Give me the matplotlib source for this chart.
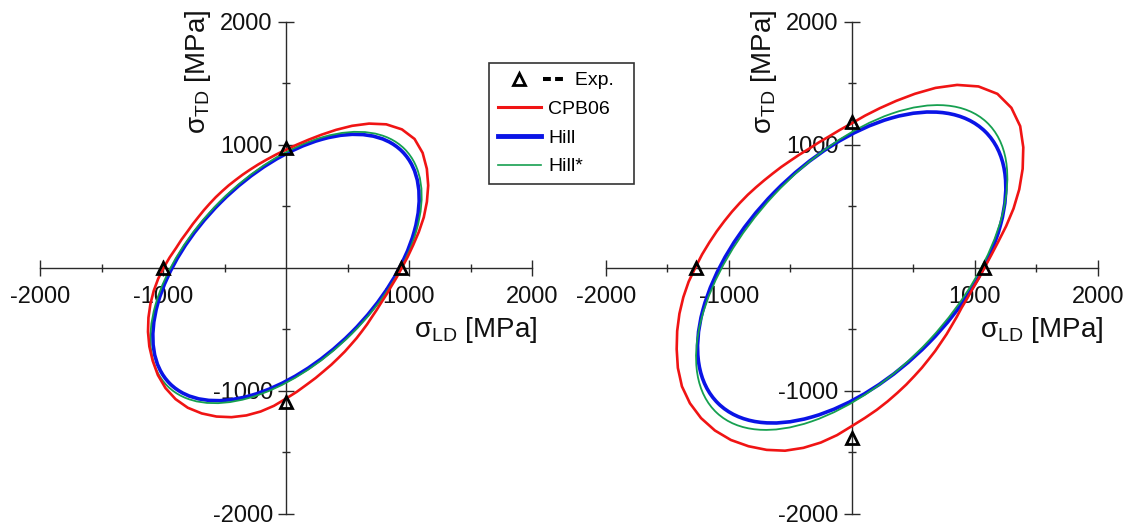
import numpy as np
import matplotlib
matplotlib.use("Agg")
import matplotlib.pyplot as plt
from matplotlib.patches import Ellipse
from matplotlib.lines import Line2D
from matplotlib.legend_handler import HandlerBase

plt.rcParams['font.family'] = ['Liberation Sans', 'DejaVu Sans']
plt.rcParams['axes.unicode_minus'] = False

# ---------------- data (MPa) ----------------
major_ticks = [-2000, -1000, 1000, 2000]
major_labels = ['-2000', '-1000', '1000', '2000']
minor_ticks = [-1500, -500, 500, 1500]

# experimental points (left / right panel)
exp_left_x = [-1000, 935, 0, 0]
exp_left_y = [0, 0, 975, -1090]
exp_right_x = [-1265, 1075, 0, 0]
exp_right_y = [0, 0, 1185, -1390]

# CPB06 yield loci, as polar readings every 5 deg (radius in MPa)
cpb06_theta = list(range(0, 360, 5))
cpb06_left_r = [943, 993, 1050, 1118, 1192, 1264, 1335, 1398, 1450, 1478, 1466, 1421,
                1351, 1271, 1191, 1118, 1055, 1002, 958, 922, 892, 868, 848, 833,
                821, 814, 809, 808, 809, 814, 822, 836, 853, 879, 908, 949,
                994, 1043, 1092, 1141, 1190, 1238, 1283, 1323, 1360, 1386, 1397, 1392,
                1370, 1337, 1295, 1245, 1189, 1129, 1066, 1014, 967, 930, 897, 872,
                850, 834, 820, 812, 806, 805, 806, 814, 826, 846, 870, 904]
cpb06_right_r = [1080, 1138, 1210, 1300, 1400, 1503, 1605, 1703, 1788, 1836, 1843, 1797,
                 1714, 1611, 1503, 1403, 1315, 1239, 1172, 1122, 1080, 1050, 1025, 1011,
                 1001, 998, 998, 1004, 1015, 1031, 1050, 1074, 1102, 1136, 1175, 1221,
                 1271, 1331, 1390, 1450, 1510, 1570, 1632, 1685, 1717, 1732, 1730, 1712,
                 1678, 1636, 1585, 1518, 1445, 1368, 1290, 1228, 1175, 1127, 1085, 1050,
                 1019, 995, 974, 960, 948, 943, 940, 944, 952, 972, 998, 1036]

# Hill / Hill* quadratic loci: [width, height, angle(deg)] of the ellipse
hill_left = [2670, 1500, 45.0]
hillstar_left = [2726, 1518, 45.0]
hill_right = [3098, 1754, 45.5]
hillstar_right = [3224, 1728, 47.2]

# ---------------- style ----------------
RED = '#f01414'
BLUE = '#0a14e6'
GREEN = '#16a050'
AX_COLOR = '#2a2a2a'

fig = plt.figure(figsize=(11.31, 5.31), dpi=100)
W, H = 1131.0, 531.0
size = 492.0
ax_l = fig.add_axes([40.0 / W, (H - 513.5) / H, size / W, size / H])
ax_r = fig.add_axes([605.7 / W, (H - 513.5) / H, size / W, size / H])


def setup(ax):
    ax.set_xlim(-2000, 2000)
    ax.set_ylim(-2000, 2000)
    ax.patch.set_alpha(0)
    for s in ['top', 'right']:
        ax.spines[s].set_visible(False)
    for s in ['left', 'bottom']:
        ax.spines[s].set_position(('data', 0))
        ax.spines[s].set_color(AX_COLOR)
        ax.spines[s].set_linewidth(1.0)
    ax.set_xticks(major_ticks)
    ax.set_xticklabels(major_labels)
    ax.set_yticks(major_ticks)
    ax.set_yticklabels(major_labels)
    ax.set_xticks(minor_ticks, minor=True)
    ax.set_yticks(minor_ticks, minor=True)
    ax.tick_params(which='major', direction='inout', length=11, width=1.0,
                   color=AX_COLOR, labelsize=17, labelcolor='#111111')
    ax.tick_params(which='minor', direction='inout', length=6, width=1.0, color=AX_COLOR)
    ax.tick_params(axis='x', which='major', pad=8)
    ax.tick_params(axis='y', which='major', pad=4)
    ax.set_xlabel('σ$_{\\mathregular{LD}}$ [MPa]', fontsize=20, color='#111111')
    ax.set_ylabel('σ$_{\\mathregular{TD}}$ [MPa]', fontsize=20, color='#111111')
    ax.xaxis.set_label_coords(0.886, 0.373)
    ax.xaxis.label.set_va('center')
    ax.xaxis.label.set_ha('center')
    ax.yaxis.set_label_coords(0.322, 0.897)
    ax.yaxis.label.set_va('center')
    ax.yaxis.label.set_ha('center')


def draw(ax, hill, hillstar, theta, r, ex, ey):
    ax.add_patch(Ellipse((0, 0), hill[0], hill[1], angle=hill[2], fill=False,
                         edgecolor=BLUE, lw=2.6, zorder=3))
    ax.add_patch(Ellipse((0, 0), hillstar[0], hillstar[1], angle=hillstar[2], fill=False,
                         edgecolor=GREEN, lw=1.3, zorder=3.1))
    t = np.radians(np.append(theta, theta[0]))
    rr = np.append(r, r[0])
    ax.plot(rr * np.cos(t), rr * np.sin(t), color=RED, lw=1.9, zorder=3.2,
            solid_joinstyle='round')
    ax.plot(ex, ey, ls='none', marker='^', ms=8, mfc='none', mec='black', mew=2,
            zorder=4, clip_on=False)


setup(ax_l)
setup(ax_r)
draw(ax_l, hill_left, hillstar_left, cpb06_theta, cpb06_left_r, exp_left_x, exp_left_y)
draw(ax_r, hill_right, hillstar_right, cpb06_theta, cpb06_right_r, exp_right_x, exp_right_y)


# ---------------- legend ----------------
class ExpHandler(HandlerBase):
    """triangle marker in the handle box, followed by a short thick dashed line"""
    def create_artists(self, legend, orig_handle, xdescent, ydescent, width, height,
                       fontsize, trans):
        yc = height / 2.0 - ydescent
        tri = Line2D([width / 2.0 - xdescent], [yc], marker='^', ls='none', ms=8,
                     mfc='none', mec='black', mew=2, transform=trans)
        dash = Line2D([width + 1.5 - xdescent, width + 16.0 - xdescent], [yc, yc],
                      color='black', lw=2.9, ls=(0, (1.95, 1.05)), transform=trans)
        return [tri, dash]


exp_handle = Line2D([], [], marker='^', ls='none', mfc='none', mec='black')
handles = [exp_handle,
           Line2D([], [], color=RED, lw=2.2),
           Line2D([], [], color=BLUE, lw=3.5),
           Line2D([], [], color=GREEN, lw=1.2)]
labels = ['     Exp.  ', 'CPB06', 'Hill', 'Hill*']
leg = fig.legend(handles, labels,
                 handler_map={exp_handle: ExpHandler()},
                 loc='upper left', bbox_to_anchor=(489.0 / W, 1 - 63.0 / H),
                 frameon=True, fancybox=False, edgecolor='black', fontsize=14,
                 handlelength=2.2, handletextpad=0.4, borderpad=0.45,
                 labelspacing=0.57, borderaxespad=0)
leg.get_frame().set_linewidth(1.2)

fig.savefig('out.png', dpi=100)
